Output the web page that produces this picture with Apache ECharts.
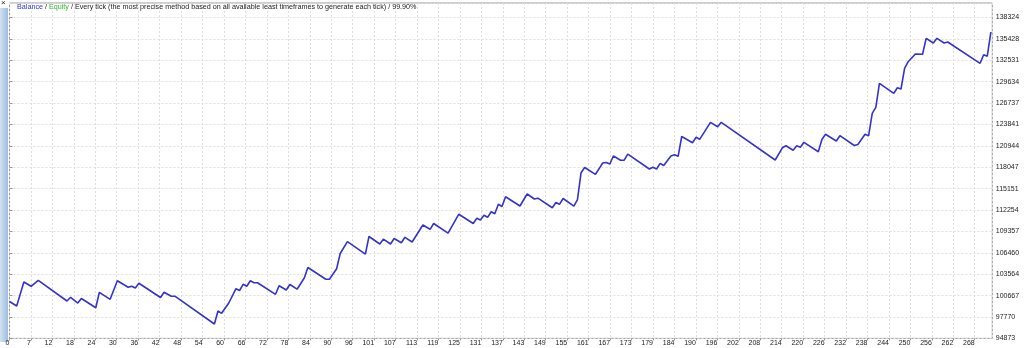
<!DOCTYPE html>
<html><head><meta charset="utf-8">
<script src="https://cdn.jsdelivr.net/npm/echarts@6/dist/echarts.min.js"></script>
<style>html,body{margin:0;padding:0;background:#fff;overflow:hidden}#c{width:1024px;height:348px}</style>
</head><body><div id="c"></div><script>
// Trade numbers of the vertices of the balance curve, and balance at each
const tradeNo = [0,2,4,6,8,16,17,19,20,24,25,28,30,33,34,35,36,42,43,45,46,57,58,59,61,63,64,65,66,67,68,69,74,75,77,78,80,82,83,88,89,91,92,94,99,100,103,104,106,107,109,110,112,115,117,118,122,125,129,130,131,132,133,134,135,136,137,138,142,144,146,147,151,152,153,154,157,158,159,160,163,164,165,166,167,168,170,171,172,178,179,180,181,182,184,185,186,187,190,191,192,195,197,198,213,215,216,218,219,220,221,225,226,227,230,231,235,236,238,239,240,241,242,246,247,248,249,250,252,254,255,257,258,260,261,270,271,272,273];
const balance = [99869,99260,102510,101927,102740,99937,100438,99666,100275,99029,101115,100167,102686,101806,101941,101697,102347,100411,101128,100587,100587,96822,98583,98271,99666,101602,101359,102198,101941,102672,102415,102415,100844,102009,101426,102171,101535,103051,104473,102889,102889,104311,106369,107967,106274,108671,107656,108306,107656,108400,107832,108563,107927,110229,109646,110432,109118,111691,110432,111136,110906,111556,111271,112030,111745,113032,112734,114061,112802,114427,113750,113858,112571,113276,113032,113817,112775,113655,117311,118015,117094,117839,118625,118692,118489,119573,119004,119004,119816,117812,118042,117812,118584,118286,119573,119735,119532,122213,121374,122105,121834,124136,123540,124136,119031,120683,120967,120358,120954,120751,121428,120155,121807,122512,121604,122322,120995,121130,122525,122322,125355,126168,129418,128064,128822,128646,131449,132343,133385,133358,135512,134875,135512,134875,135011,132126,133291,133088,136365];
// Axis tick labels as printed
const xTickLabels = ['0','7','12','18','24','30','36','42','48','54','60','66','72','78','84','90','96','101','107','113','119','125','131','137','143','149','155','161','167','173','179','184','190','196','202','208','214','220','226','232','238','244','250','256','262','268'];
const yTickLabels = ['94873','97770','100667','103564','106460','109357','112254','115151','118047','120944','123841','126737','129634','132531','135428','138324'];

const X_MIN = 0, X_STEP = 5.967, X_MAX = 273.4;
const Y_MIN = 94873, Y_STEP = 2896.73, Y_MAX = 140293;

const data = tradeNo.map((t, i) => [t, balance[i]]);
function pick(labels, min, step) {
  return function (v) {
    const k = (v - min) / step;
    const r = Math.round(k);
    if (Math.abs(k - r) > 0.02) return '';
    return labels[r] !== undefined ? labels[r] : '';
  };
}
const FONT = '"Liberation Sans", Arial, sans-serif';
const chart = echarts.init(document.getElementById('c'), null, {renderer: 'canvas'});
chart.setOption({
  animation: false,
  backgroundColor: '#fff',
  textStyle: {fontFamily: FONT},
  title: {
    left: 12, top: -1,
    text: '{b|Balance} / {e|Equity} / Every tick (the most precise method based on all available least timeframes to generate each tick) / 99.90%',
    textStyle: {
      fontSize: 7.2, fontWeight: 'normal', color: '#222', fontFamily: FONT,
      rich: {
        b: {color: '#3333cc', fontSize: 7.2, fontFamily: FONT},
        e: {color: '#2fb52f', fontSize: 7.2, fontFamily: FONT}
      }
    }
  },
  graphic: [
    {type: 'rect', left: 0, top: 8, shape: {width: 8, height: 334},
     style: {fill: new echarts.graphic.LinearGradient(0, 0, 1, 0, [{offset: 0, color: '#d3e2f3'}, {offset: 1, color: '#9fbbdd'}])}, silent: true},
    {type: 'text', left: 1, top: -1, style: {text: '×', fontSize: 8, fill: '#222', fontFamily: FONT}, silent: true}
  ],
  grid: {left: 9.5, right: 31.7, top: 3, bottom: 9.6, show: true, borderColor: '#9a9a9a', borderWidth: 1, backgroundColor: '#fff'},
  xAxis: {
    type: 'value', min: X_MIN, max: X_MAX, interval: X_STEP,
    axisLine: {show: false},
    axisTick: {show: true, length: 2, lineStyle: {color: '#999'}},
    axisLabel: {fontSize: 7, margin: 1, color: '#222', align: 'right', fontFamily: FONT,
      showMaxLabel: false, formatter: pick(xTickLabels, X_MIN, X_STEP)},
    splitLine: {show: true, lineStyle: {color: '#dedede', type: [2, 2], width: 1}}
  },
  yAxis: {
    type: 'value', position: 'right', min: Y_MIN, max: Y_MAX, interval: Y_STEP,
    axisLine: {show: false},
    axisTick: {show: true, length: 3, lineStyle: {color: '#999'}},
    axisLabel: {fontSize: 7, margin: 3.5, color: '#222', fontFamily: FONT,
      showMaxLabel: false, formatter: pick(yTickLabels, Y_MIN, Y_STEP)},
    splitLine: {show: true, lineStyle: {color: '#dedede', type: [2, 2], width: 1}}
  },
  series: [{
    type: 'line', data: data, showSymbol: false, symbol: 'none',
    lineStyle: {color: '#3434c8', width: 1.6}, z: 5
  }]
});
</script></body></html>
